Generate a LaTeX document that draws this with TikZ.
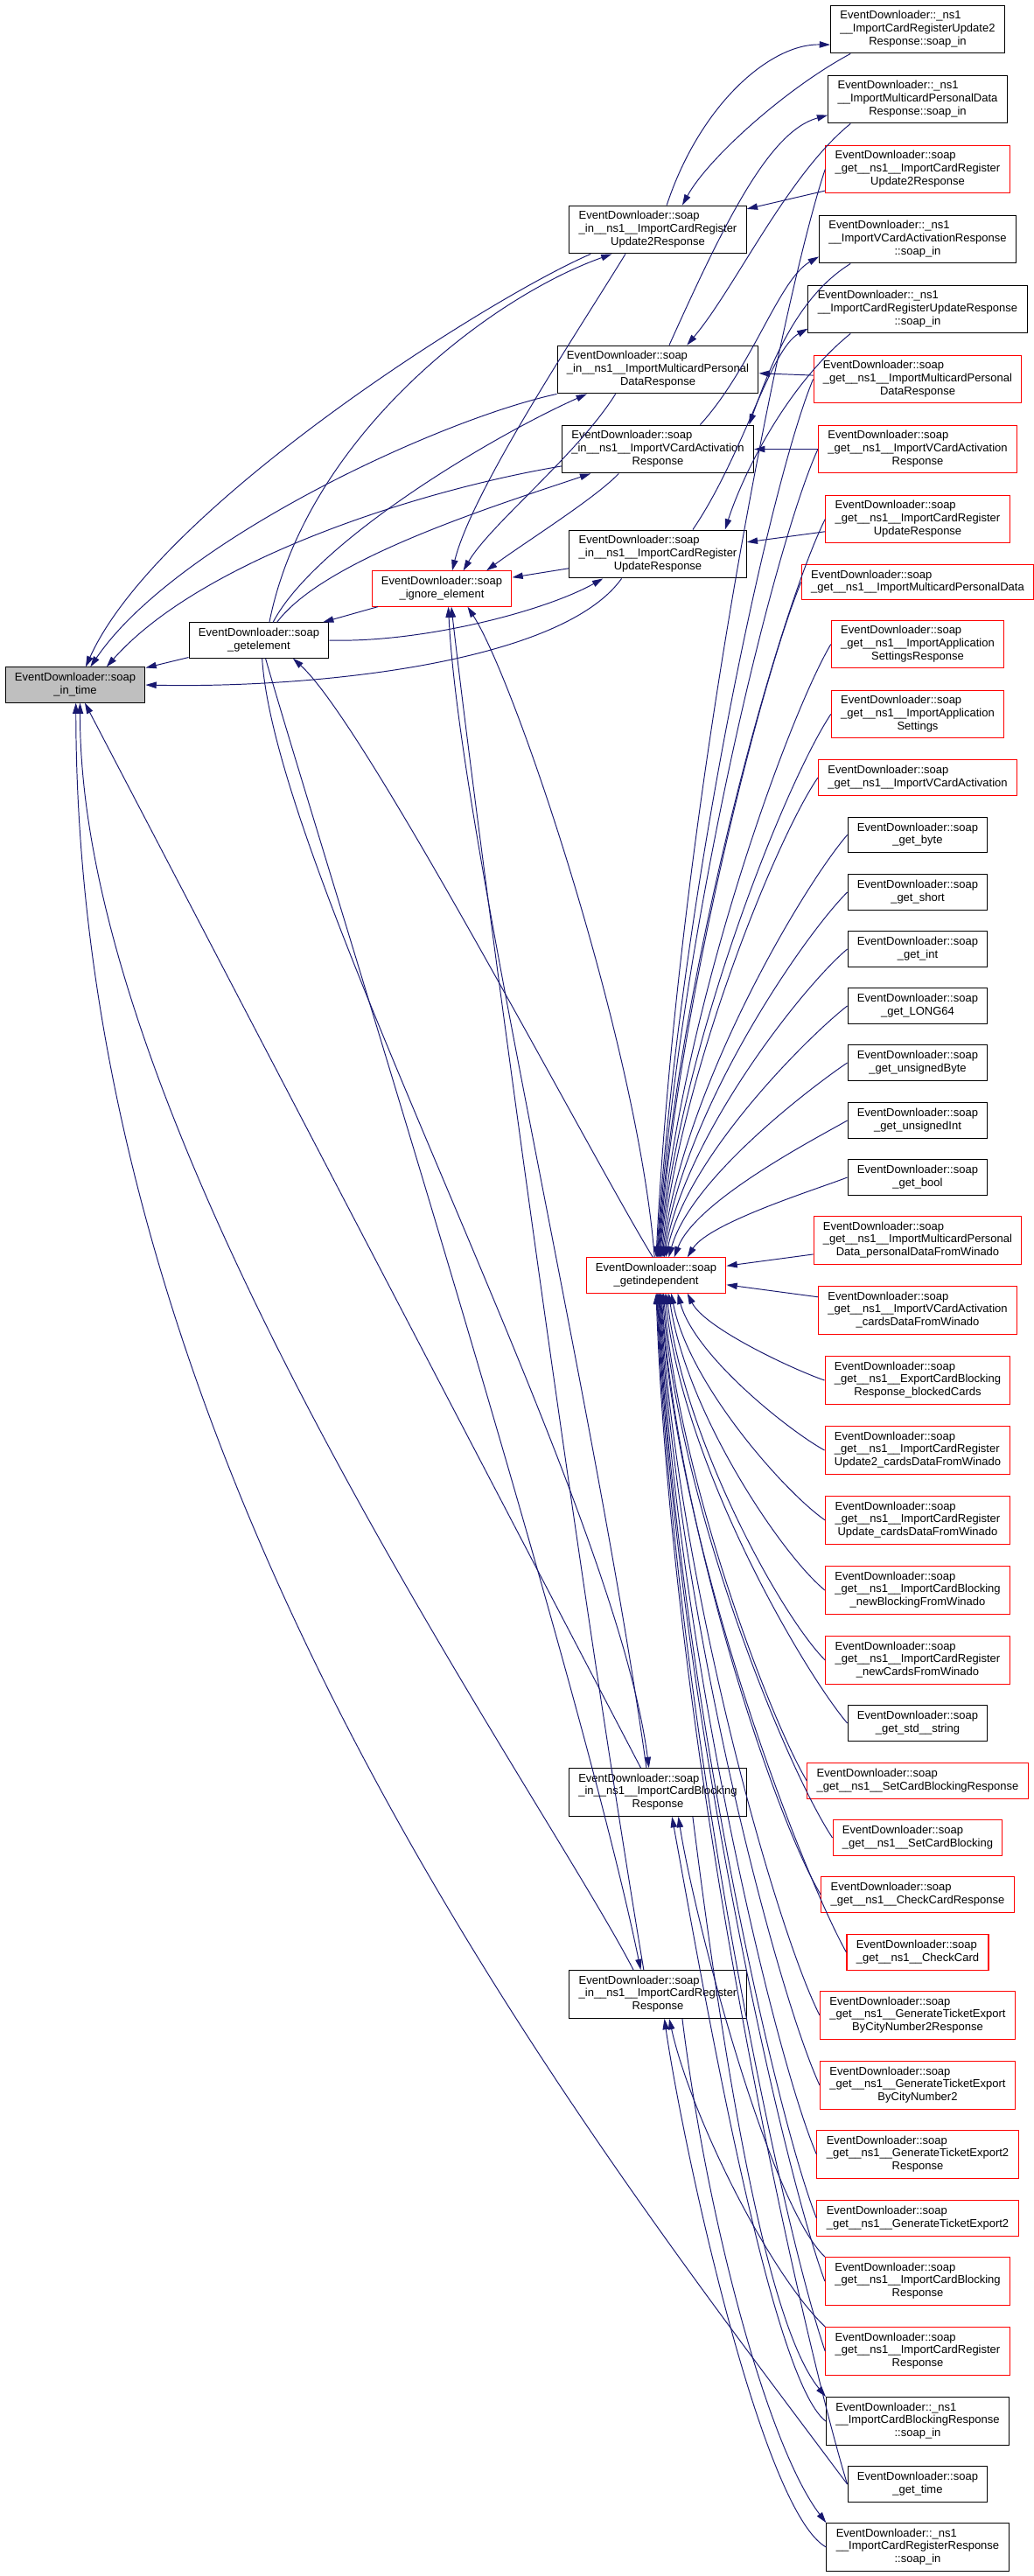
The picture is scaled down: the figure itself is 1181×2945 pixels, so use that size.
\documentclass[tikz,border=0pt]{standalone}
\usepackage{fontspec}
\setmainfont{Liberation Sans}
\usetikzlibrary{arrows.meta}
\definecolor{edgeblue}{HTML}{191970}
\definecolor{nodegray}{HTML}{BFBFBF}
\newcommand{\dlab}[2]{\begin{tabular}{@{}l@{}}#1\\\multicolumn{1}{@{}c@{}}{#2}\end{tabular}}
\begin{document}
\begin{tikzpicture}[x=0.02cm,y=-0.02cm,
  fn/.style={draw=black,line width=0.6pt,inner xsep=6.2pt,inner ysep=3.15pt,font=\fontsize{7.4}{8.3}\selectfont},
  fnred/.style={fn,draw=red},
  fnself/.style={fn,fill=nodegray},
  call/.style={edgeblue,line width=0.55pt,-{Triangle[length=7pt,width=4.2pt]}}]
\path[fill=white,use as bounding box] (0,0) rectangle (1181,2945);
\node (intime) at (86,783)[fnself]{\dlab{EventDownloader::soap}{\_in\_time}};
\node (getelem) at (296,732)[fn]{\dlab{EventDownloader::soap}{\_getelement}};
\node (ignore) at (505,673)[fnred]{\dlab{EventDownloader::soap}{\_ignore\_element}};
\node (getindep) at (750,1458)[fnred]{\dlab{EventDownloader::soap}{\_getindependent}};
\node (inupdtwo) at (752,262.5)[fn]{\dlab{EventDownloader::soap\\\_in\_\_ns1\_\_ImportCardRegister}{Update2Response}};
\node (inmulti) at (752,422.5)[fn]{\dlab{EventDownloader::soap\\\_in\_\_ns1\_\_ImportMulticardPersonal}{DataResponse}};
\node (invcard) at (752,513.5)[fn]{\dlab{EventDownloader::soap\\\_in\_\_ns1\_\_ImportVCardActivation}{Response}};
\node (inupd) at (752,633.5)[fn]{\dlab{EventDownloader::soap\\\_in\_\_ns1\_\_ImportCardRegister}{UpdateResponse}};
\node (inblock) at (752,2049)[fn]{\dlab{EventDownloader::soap\\\_in\_\_ns1\_\_ImportCardBlocking}{Response}};
\node (inreg) at (752,2280)[fn]{\dlab{EventDownloader::soap\\\_in\_\_ns1\_\_ImportCardRegister}{Response}};
\node (nsupdtwo) at (1049,33.5)[fn]{\dlab{EventDownloader::\_ns1\\\_\_ImportCardRegisterUpdate2}{Response::soap\_in}};
\node (nsmulti) at (1049,113.5)[fn]{\dlab{EventDownloader::\_ns1\\\_\_ImportMulticardPersonalData}{Response::soap\_in}};
\node (getupdtwo) at (1049,193.5)[fnred]{\dlab{EventDownloader::soap\\\_get\_\_ns1\_\_ImportCardRegister}{Update2Response}};
\node (nsvcard) at (1049,273.5)[fn]{\dlab{EventDownloader::\_ns1\\\_\_ImportVCardActivationResponse}{::soap\_in}};
\node (nsupd) at (1049,353.5)[fn]{\dlab{EventDownloader::\_ns1\\\_\_ImportCardRegisterUpdateResponse}{::soap\_in}};
\node (getmulti) at (1049,433.5)[fnred]{\dlab{EventDownloader::soap\\\_get\_\_ns1\_\_ImportMulticardPersonal}{DataResponse}};
\node (getvcard) at (1049,513.5)[fnred]{\dlab{EventDownloader::soap\\\_get\_\_ns1\_\_ImportVCardActivation}{Response}};
\node (getupd) at (1049,593.5)[fnred]{\dlab{EventDownloader::soap\\\_get\_\_ns1\_\_ImportCardRegister}{UpdateResponse}};
\node (getmultidata) at (1049,665.5)[fnred]{\dlab{EventDownloader::soap}{\_get\_\_ns1\_\_ImportMulticardPersonalData}};
\node (getappsetresp) at (1049,736.5)[fnred]{\dlab{EventDownloader::soap\\\_get\_\_ns1\_\_ImportApplication}{SettingsResponse}};
\node (getappset) at (1049,816.5)[fnred]{\dlab{EventDownloader::soap\\\_get\_\_ns1\_\_ImportApplication}{Settings}};
\node (getvcardact) at (1049,889)[fnred]{\dlab{EventDownloader::soap}{\_get\_\_ns1\_\_ImportVCardActivation}};
\node (getbyte) at (1049,954.5)[fn]{\dlab{EventDownloader::soap}{\_get\_byte}};
\node (getshort) at (1049,1020)[fn]{\dlab{EventDownloader::soap}{\_get\_short}};
\node (getint) at (1049,1085)[fn]{\dlab{EventDownloader::soap}{\_get\_int}};
\node (getlong) at (1049,1150)[fn]{\dlab{EventDownloader::soap}{\_get\_LONG64}};
\node (getubyte) at (1049,1215)[fn]{\dlab{EventDownloader::soap}{\_get\_unsignedByte}};
\node (getuint) at (1049,1281)[fn]{\dlab{EventDownloader::soap}{\_get\_unsignedInt}};
\node (getbool) at (1049,1346)[fn]{\dlab{EventDownloader::soap}{\_get\_bool}};
\node (getmultiwin) at (1049,1418)[fnred]{\dlab{EventDownloader::soap\\\_get\_\_ns1\_\_ImportMulticardPersonal}{Data\_personalDataFromWinado}};
\node (getvcardwin) at (1049,1498)[fnred]{\dlab{EventDownloader::soap\\\_get\_\_ns1\_\_ImportVCardActivation}{\_cardsDataFromWinado}};
\node (getblocked) at (1049,1578)[fnred]{\dlab{EventDownloader::soap\\\_get\_\_ns1\_\_ExportCardBlocking}{Response\_blockedCards}};
\node (getupdtwowin) at (1049,1658)[fnred]{\dlab{EventDownloader::soap\\\_get\_\_ns1\_\_ImportCardRegister}{Update2\_cardsDataFromWinado}};
\node (getupdwin) at (1049,1738)[fnred]{\dlab{EventDownloader::soap\\\_get\_\_ns1\_\_ImportCardRegister}{Update\_cardsDataFromWinado}};
\node (getblockwin) at (1049,1818)[fnred]{\dlab{EventDownloader::soap\\\_get\_\_ns1\_\_ImportCardBlocking}{\_newBlockingFromWinado}};
\node (getnewcards) at (1049,1898)[fnred]{\dlab{EventDownloader::soap\\\_get\_\_ns1\_\_ImportCardRegister}{\_newCardsFromWinado}};
\node (getstring) at (1049,1970)[fn]{\dlab{EventDownloader::soap}{\_get\_std\_\_string}};
\node (getsetblockresp) at (1049,2036)[fnred]{\dlab{EventDownloader::soap}{\_get\_\_ns1\_\_SetCardBlockingResponse}};
\node (getsetblock) at (1049,2101)[fnred]{\dlab{EventDownloader::soap}{\_get\_\_ns1\_\_SetCardBlocking}};
\node (getcheckresp) at (1049,2166)[fnred]{\dlab{EventDownloader::soap}{\_get\_\_ns1\_\_CheckCardResponse}};
\node (getcheck) at (1049,2232)[fnred]{\dlab{EventDownloader::soap}{\_get\_\_ns1\_\_CheckCard}};
\node (getcitytworesp) at (1049,2304)[fnred]{\dlab{EventDownloader::soap\\\_get\_\_ns1\_\_GenerateTicketExport}{ByCityNumber2Response}};
\node (getcitytwo) at (1049,2384)[fnred]{\dlab{EventDownloader::soap\\\_get\_\_ns1\_\_GenerateTicketExport}{ByCityNumber2}};
\node (getexptworesp) at (1049,2463)[fnred]{\dlab{EventDownloader::soap\\\_get\_\_ns1\_\_GenerateTicketExport2}{Response}};
\node (getexptwo) at (1049,2536)[fnred]{\dlab{EventDownloader::soap}{\_get\_\_ns1\_\_GenerateTicketExport2}};
\node (getblock) at (1049,2608)[fnred]{\dlab{EventDownloader::soap\\\_get\_\_ns1\_\_ImportCardBlocking}{Response}};
\node (getreg) at (1049,2688)[fnred]{\dlab{EventDownloader::soap\\\_get\_\_ns1\_\_ImportCardRegister}{Response}};
\node (nsblock) at (1049,2768)[fn]{\dlab{EventDownloader::\_ns1\\\_\_ImportCardBlockingResponse}{::soap\_in}};
\node (gettime) at (1049,2840)[fn]{\dlab{EventDownloader::soap}{\_get\_time}};
\node (nsreg) at (1049,2912)[fn]{\dlab{EventDownloader::\_ns1\\\_\_ImportCardRegisterResponse}{::soap\_in}};
\draw[call] (inupdtwo.-160) .. controls (560,340) and (180,580) .. (intime.60);
\draw[call] (inmulti.south west) .. controls (500,480) and (200,620) .. (intime.50);
\draw[call] (invcard.190) .. controls (480,560) and (230,640) .. (intime.30);
\draw[call] (inupd.-146) .. controls (640,760) and (350,787) .. (intime.east);
\draw[call] (getelem) -- (intime);
\draw[call] (inblock.125) -- (intime.-62);
\draw[call] (inreg.135) .. controls (620,2050) and (90,1300) .. (intime.-75);
\draw[call] (gettime.west) .. controls (669,2439) and (88,1703) .. (intime.-88);
\draw[call] (inupdtwo.70) .. controls (800,120) and (880,50) .. (nsupdtwo.190);
\draw[call] (nsupdtwo.-160) .. controls (900,100) and (810,180) .. (inupdtwo.45);
\draw[call] (getupdtwo) -- (inupdtwo);
\draw[call] (getelem.60) .. controls (350,500) and (560,340) .. (inupdtwo.-152);
\draw[call] (inmulti.65) .. controls (830,250) and (880,150) .. (nsmulti.190);
\draw[call] (nsmulti.-160) .. controls (900,200) and (840,330) .. (inmulti.40);
\draw[call] (getmulti) -- (inmulti);
\draw[call] (getelem.52) .. controls (360,620) and (560,500) .. (inmulti.-161);
\draw[call] (invcard.30) .. controls (860,420) and (890,320) .. (nsvcard.190);
\draw[call] (nsvcard.-160) .. controls (910,340) and (880,420) .. (invcard.15);
\draw[call] (getvcard) -- (invcard);
\draw[call] (getelem.45) .. controls (370,640) and (560,580) .. (invcard.-160);
\draw[call] (inupd.35) .. controls (850,520) and (880,400) .. (nsupd.190);
\draw[call] (nsupd.-160) .. controls (900,440) and (850,540) .. (inupd.20);
\draw[call] (getupd) -- (inupd);
\draw[call] (getelem.east) .. controls (480,735) and (620,700) .. (inupd.-156);
\draw[call] (getelem.-80) .. controls (315,1000) and (700,1700) .. (inblock.110);
\draw[call] (getelem.-70) .. controls (360,950) and (660,1900) .. (inreg.125);
\draw[call] (nsblock.west) .. controls (880,2720) and (800,2250) .. (inblock.-60);
\draw[call] (inblock.-35) .. controls (820,2300) and (870,2650) .. (nsblock.north west);
\draw[call] (getblock.north west) .. controls (880,2520) and (795,2200) .. (inblock.-50);
\draw[call] (nsreg.west) .. controls (870,2870) and (780,2450) .. (inreg.-75);
\draw[call] (inreg.-45) .. controls (810,2550) and (880,2800) .. (nsreg.north west);
\draw[call] (getreg.north west) .. controls (880,2600) and (790,2420) .. (inreg.-65);
\draw[call] (inupdtwo.-143) .. controls (660,380) and (540,560) .. (ignore.60);
\draw[call] (inmulti.-150) .. controls (660,520) and (560,600) .. (ignore.40);
\draw[call] (invcard.-148) .. controls (680,570) and (600,620) .. (ignore.22);
\draw[call] (inupd) -- (ignore);
\draw[call] (inblock.115) .. controls (680,1600) and (525,950) .. (ignore.-70);
\draw[call] (inreg.120) .. controls (660,1800) and (545,950) .. (ignore.-62);
\draw[call] (getindep.95) .. controls (730,1200) and (590,780) .. (ignore.-35);
\draw[call] (ignore) -- (getelem);
\draw[call] (getindep.100) .. controls (680,1330) and (420,830) .. (getelem.-28);
\draw[call] (getupdtwo.west) .. controls +(-50,150) and +(25,-500) .. (getindep.90);
\draw[call] (getmulti.west) .. controls +(-50,120) and +(25,-400) .. (getindep.88);
\draw[call] (getvcard.west) .. controls +(-50,110) and +(25,-370) .. (getindep.86);
\draw[call] (getupd.west) .. controls +(-50,100) and +(25,-340) .. (getindep.84);
\draw[call] (getmultidata.west) .. controls +(-40,95) and +(25,-310) .. (getindep.82);
\draw[call] (getappsetresp.west) .. controls +(-50,85) and +(25,-280) .. (getindep.80);
\draw[call] (getappset.west) .. controls +(-50,75) and +(25,-250) .. (getindep.78);
\draw[call] (getvcardact.west) .. controls +(-45,65) and +(25,-220) .. (getindep.75);
\draw[call] (getbyte.west) .. controls +(-50,58) and +(25,-195) .. (getindep.72);
\draw[call] (getshort.west) .. controls +(-50,50) and +(25,-170) .. (getindep.69);
\draw[call] (getint.west) .. controls +(-50,42) and +(25,-140) .. (getindep.66);
\draw[call] (getlong.west) .. controls +(-45,35) and +(25,-115) .. (getindep.62);
\draw[call] (getubyte.west) .. controls +(-40,27) and +(25,-90) .. (getindep.55);
\draw[call] (getuint.west) .. controls +(-35,20) and +(25,-65) .. (getindep.45);
\draw[call] (getbool.west) .. controls +(-30,12) and +(25,-40) .. (getindep.30);
\draw[call] (getmultiwin) -- (getindep);
\draw[call] (getvcardwin) -- (getindep);
\draw[call] (getblocked.west) .. controls +(-35,-12) and +(20,40) .. (getindep.-30);
\draw[call] (getupdtwowin.west) .. controls +(-40,-22) and +(20,72) .. (getindep.-40);
\draw[call] (getupdwin.west) .. controls +(-45,-31) and +(20,104) .. (getindep.-50);
\draw[call] (getblockwin.west) .. controls +(-50,-41) and +(20,136) .. (getindep.-55);
\draw[call] (getnewcards.west) .. controls +(-50,-50) and +(20,168) .. (getindep.-60);
\draw[call] (getstring.west) .. controls +(-50,-59) and +(20,196) .. (getindep.-64);
\draw[call] (getsetblockresp.west) .. controls +(-40,-67) and +(20,223) .. (getindep.-68);
\draw[call] (getsetblock.west) .. controls +(-50,-75) and +(20,249) .. (getindep.-71);
\draw[call] (getcheckresp.west) .. controls +(-50,-82) and +(20,275) .. (getindep.-74);
\draw[call] (getcheck.west) .. controls +(-50,-90) and +(20,301) .. (getindep.-76);
\draw[call] (getcitytworesp.west) .. controls +(-50,-99) and +(20,330) .. (getindep.-78);
\draw[call] (getcitytwo.west) .. controls +(-50,-109) and +(20,362) .. (getindep.-80);
\draw[call] (getexptworesp.west) .. controls +(-50,-118) and +(20,394) .. (getindep.-82);
\draw[call] (getexptwo.west) .. controls +(-50,-127) and +(20,423) .. (getindep.-84);
\draw[call] (getblock.west) .. controls +(-50,-135) and +(20,452) .. (getindep.-86);
\draw[call] (getreg.west) .. controls +(-50,-145) and +(20,484) .. (getindep.-88);
\draw[call] (gettime.west) .. controls +(-50,-163) and +(20,544) .. (getindep.-90);
\end{tikzpicture}
\end{document}
